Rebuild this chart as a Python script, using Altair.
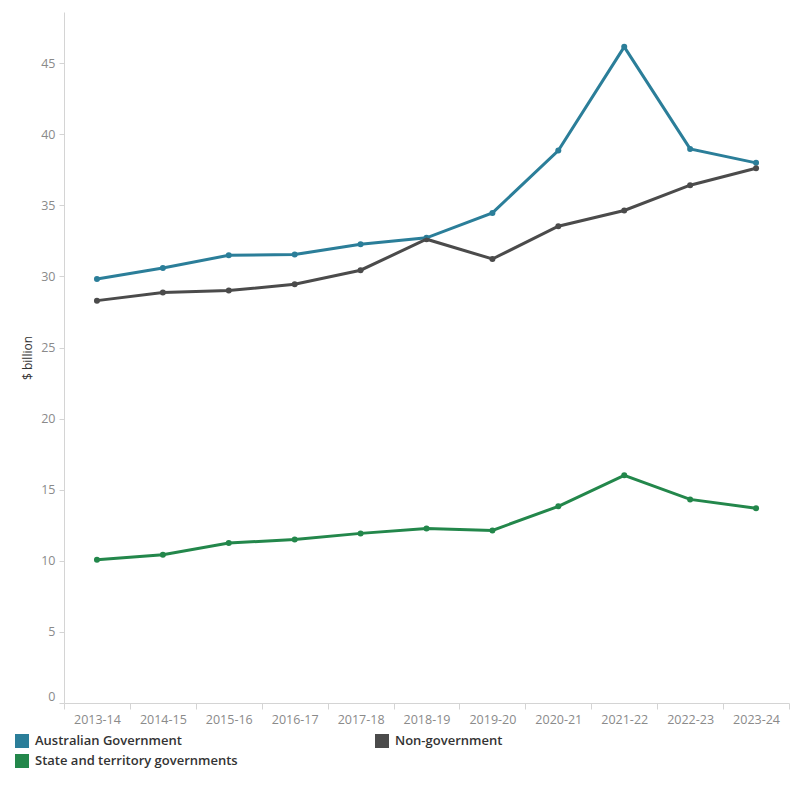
import altair as alt
import pandas as pd

# Financial years on the x axis
years = ["2013-14", "2014-15", "2015-16", "2016-17", "2017-18", "2018-19",
         "2019-20", "2020-21", "2021-22", "2022-23", "2023-24"]

# Spending by source of funds, $ billion
australian_government = [29.82, 30.60, 31.49, 31.54, 32.27, 32.72,
                         34.47, 38.86, 46.15, 38.97, 37.99]
non_government = [28.30, 28.87, 29.01, 29.45, 30.44, 32.62,
                  31.23, 33.53, 34.64, 36.42, 37.61]
state_territory = [10.08, 10.43, 11.25, 11.50, 11.93, 12.28,
                   12.14, 13.83, 16.01, 14.32, 13.69]

sectors = ["Australian Government", "Non-government", "State and territory governments"]
colors = ["#2b7e99", "#4b4b4b", "#23874b"]

rows = []
for name, series in zip(sectors, [australian_government, non_government, state_territory]):
    for yr, v in zip(years, series):
        rows.append({"year": yr, "sector": name, "value": v})
df = pd.DataFrame(rows)

font = "Open Sans"

x_enc = alt.X(
    "year:N",
    sort=years,
    bandPosition=0.5,
    scale=alt.Scale(type="band", paddingInner=0, paddingOuter=0),
    axis=alt.Axis(
        title=None,
        tickBand="extent",
        labelAngle=0,
        labelColor="#8a8a8a",
        labelFontSize=12.5,
        labelFont=font,
        labelPadding=4,
        domainColor="#d4d4d4",
        tickColor="#d4d4d4",
        tickSize=6,
        grid=False,
    ),
)
y_enc = alt.Y(
    "value:Q",
    scale=alt.Scale(domain=[0, 48.6], nice=False, zero=True),
    axis=alt.Axis(
        title="$ billion",
        titleFont=font,
        titleFontSize=12,
        titleFontWeight="normal",
        titleColor="#333333",
        titlePadding=6,
        values=[0, 5, 10, 15, 20, 25, 30, 35, 40, 45],
        labelColor="#8a8a8a",
        labelFontSize=12.5,
        labelFont=font,
        labelFlush=True,
        labelPadding=4,
        domainColor="#d4d4d4",
        tickColor="#d4d4d4",
        tickSize=5,
        grid=False,
    ),
)
color_enc = alt.Color(
    "sector:N",
    sort=sectors,
    scale=alt.Scale(domain=sectors, range=colors),
    legend=alt.Legend(
        title=None,
        orient="none",
        legendX=-49,
        legendY=722,
        direction="horizontal",
        columns=2,
        columnPadding=137,
        rowPadding=6,
        symbolType="square",
        symbolSize=196,
        symbolStrokeWidth=0,
        symbolOffset=0,
        symbolOpacity=1,
        symbolFillColor="#2b7e99",
        labelFont=font,
        labelFontSize=13,
        labelFontWeight=600,
        labelColor="#333333",
        labelOffset=6,
        labelLimit=400,
    ),
)

base = alt.Chart(df).encode(x=x_enc, y=y_enc, color=color_enc)
points = base.mark_point(filled=True, size=36, opacity=1)
lines = base.mark_line(strokeWidth=3)

chart = (
    alt.layer(points, lines)
    .properties(width=725, height=691,
                background="white",
                autosize=alt.AutoSizeParams(type="none"),
                padding={"left": 64, "top": 12, "right": 11, "bottom": 97})
    .configure_view(stroke=None, strokeWidth=0)
)

chart.save("out.html", embed_options={"renderer": "svg", "actions": False})
